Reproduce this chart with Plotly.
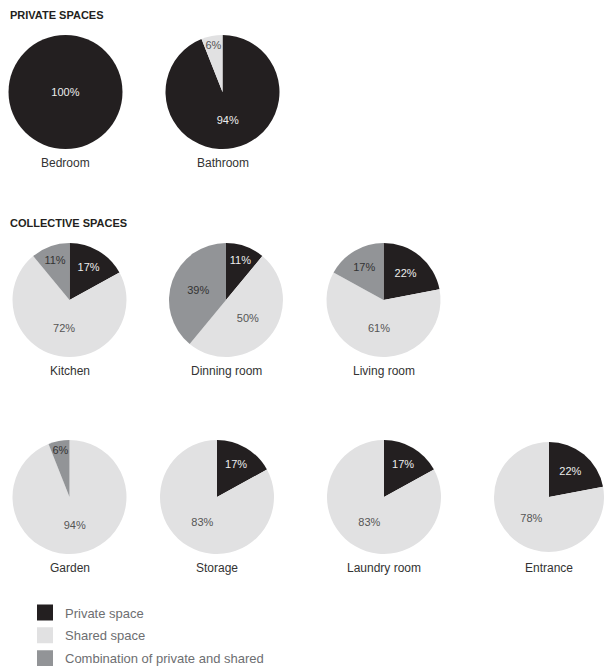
import plotly.graph_objects as go

W, H = 604, 666

rooms = ["Bedroom", "Bathroom", "Kitchen", "Dinning room", "Living room",
         "Garden", "Storage", "Laundry room", "Entrance"]
categories = ["Private space", "Shared space", "Combination of private and shared"]
private = [100, 94, 17, 11, 22, 0, 17, 17, 22]
shared = [0, 6, 72, 50, 61, 94, 83, 83, 78]
combined = [0, 0, 11, 39, 17, 6, 0, 0, 0]

colors = ["#231f20", "#e1e1e2", "#929497"]
text_colors = ["#ededed", "#555555", "#333333"]
FONT = "Liberation Sans, Arial, sans-serif"

# layout: pie centre (px) and radius
centers = [(65.5, 92), (222.5, 92), (69.5, 300), (226, 300), (383.5, 300),
           (69.5, 497), (217, 497), (384, 497), (551, 497)]
R = 57

fig = go.Figure()
for i, room in enumerate(rooms):
    vals = [private[i], shared[i], combined[i]]
    cx, cy = centers[i]
    x0 = max(0, (cx - R) / W)
    x1 = min(1, (cx + R) / W)
    y0 = 1 - (cy + R) / H
    y1 = 1 - (cy - R) / H
    fig.add_trace(go.Pie(
        labels=categories,
        values=vals,
        text=[f"{v}%" if v else "" for v in vals],
        textinfo="text",
        textposition="inside",
        insidetextorientation="horizontal",
        textfont=dict(size=11, color=text_colors, family=FONT),
        marker=dict(colors=colors, line=dict(width=0)),
        sort=False,
        direction="clockwise",
        rotation=0,
        hoverinfo="label+percent",
        domain=dict(x=[x0, x1], y=[y0, y1]),
        showlegend=False,
        name=room,
    ))
    fig.add_annotation(text=room, x=(cx if cx + R <= W else (cx - R + W) / 2) / W,
                       y=1 - (cy + R + 14) / H, xref="paper", yref="paper",
                       xanchor="center", yanchor="middle", showarrow=False,
                       font=dict(size=12, color="#333333", family=FONT))

# legend entries
for cat, col in zip(categories, colors):
    fig.add_trace(go.Scatter(
        x=[None], y=[None], mode="markers", name=cat, legendgroup=cat,
        marker=dict(symbol="square", size=17, color=col),
        showlegend=True, hoverinfo="skip",
    ))

fig.add_annotation(text="<b>PRIVATE SPACES</b>", x=8 / W, y=1 - 15 / H, xref="paper", yref="paper",
                   xanchor="left", yanchor="middle", showarrow=False,
                   font=dict(size=11, color="#231f20", family=FONT))
fig.add_annotation(text="<b>COLLECTIVE SPACES</b>", x=8 / W, y=1 - 223 / H, xref="paper", yref="paper",
                   xanchor="left", yanchor="middle", showarrow=False,
                   font=dict(size=11, color="#231f20", family=FONT))

fig.update_layout(
    width=W, height=H,
    margin=dict(l=0, r=0, t=0, b=0, autoexpand=False),
    paper_bgcolor="white", plot_bgcolor="white",
    uniformtext=dict(minsize=11, mode="show"),
    xaxis=dict(visible=False),
    yaxis=dict(visible=False),
    legend=dict(x=25 / W, y=1 - 597.5 / H, xanchor="left", yanchor="top",
                traceorder="grouped", tracegroupgap=3,
                font=dict(size=13, color="#6d6e71", family=FONT),
                bgcolor="rgba(0,0,0,0)"),
)

fig.write_html("out.html", config={"displayModeBar": False},
               post_script="document.body.style.margin='0';")
